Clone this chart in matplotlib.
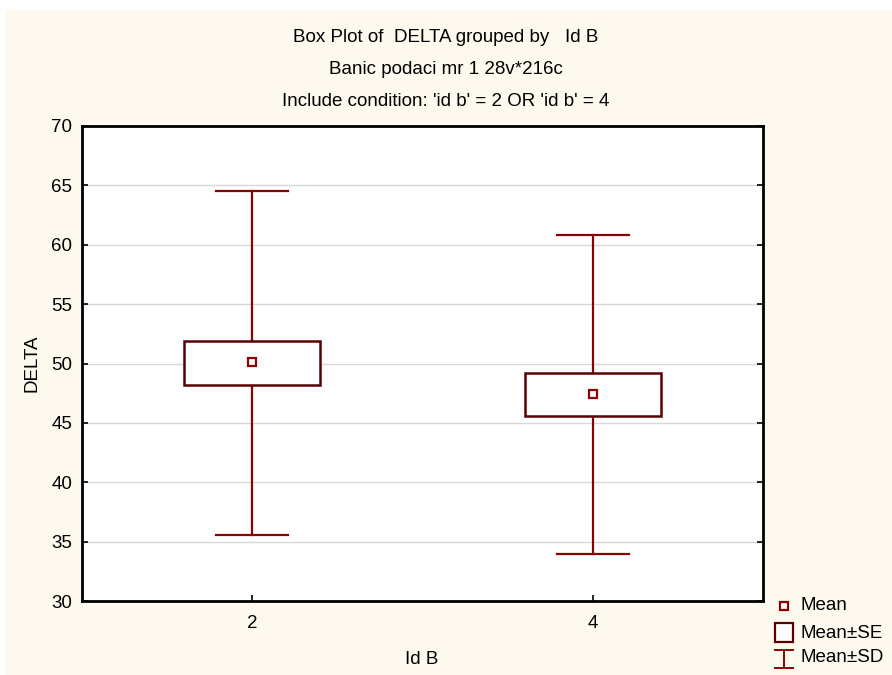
import matplotlib.pyplot as plt
from matplotlib.patches import Rectangle
from matplotlib.lines import Line2D

plt.rcParams['font.family'] = ['Liberation Sans', 'DejaVu Sans']

groups = ['2', '4']
positions = [2, 4]
means = [50.1, 47.43]
se_low = [48.2, 45.58]
se_high = [51.9, 49.2]
sd_low = [35.56, 33.96]
sd_high = [64.53, 60.82]

line_col = '#8b0000'
box_col = '#5a0000'
fs = 13.5

fig = plt.figure(figsize=(8.92, 6.75), dpi=100, facecolor='white')
fig.patches.append(Rectangle((5 / 892, 0), 1, 1 - 10 / 675, transform=fig.transFigure,
                             facecolor='#fdf9ef', edgecolor='none', zorder=-10))
ax = fig.add_axes([82 / 892, 1 - 601 / 675, 681 / 892, 475 / 675])
ax.set_facecolor('white')

box_w = 0.8
cap_w = 0.42
for x, m, sl, sh, dl, dh in zip(positions, means, se_low, se_high, sd_low, sd_high):
    ax.plot([x, x], [sh, dh], color=line_col, lw=1.6, zorder=3)
    ax.plot([x, x], [dl, sl], color=line_col, lw=1.6, zorder=3)
    ax.plot([x - cap_w / 2, x + cap_w / 2], [dh, dh], color=line_col, lw=1.6, zorder=3)
    ax.plot([x - cap_w / 2, x + cap_w / 2], [dl, dl], color=line_col, lw=1.6, zorder=3)
    ax.add_patch(Rectangle((x - box_w / 2, sl), box_w, sh - sl, facecolor='white',
                           edgecolor=box_col, lw=1.8, zorder=4))
    ax.plot([x], [m], marker='s', ms=6, mfc='white', mec=line_col, mew=1.6, zorder=5)

ax.set_xlim(1, 5)
ax.set_ylim(30, 70)
ax.set_xticks(positions)
ax.set_xticklabels(groups)
ax.set_yticks(range(30, 71, 5))
ax.grid(True, axis='y', color='#d8d8d8', lw=1)
ax.set_axisbelow(True)
for s in ax.spines.values():
    s.set_linewidth(2)
ax.tick_params(labelsize=fs, length=4, width=1.2, direction='in')
ax.tick_params(axis='y', right=True, pad=7)
ax.tick_params(axis='x', pad=10)

fig.text(0.5, 1 - 38 / 675, 'Box Plot of  DELTA grouped by   Id B', ha='center', va='center', fontsize=fs)
fig.text(0.5, 1 - 70 / 675, 'Banic podaci mr 1 28v*216c', ha='center', va='center', fontsize=fs)
fig.text(0.5, 1 - 101 / 675, "Include condition: 'id b' = 2 OR 'id b' = 4", ha='center', va='center', fontsize=fs)
fig.text(422 / 892, 1 - 659 / 675, 'Id B', ha='center', va='center', fontsize=fs)
fig.text(32 / 892, 1 - 363 / 675, 'DELTA', ha='center', va='center', rotation=90, fontsize=fs)

# legend
lx = 784 / 892
ty = [1 - 606 / 675, 1 - 633 / 675, 1 - 658 / 675]
fig.add_artist(Line2D([lx], [ty[0]], marker='s', ms=6, mfc='white', mec=line_col, mew=1.6,
                      transform=fig.transFigure))
fig.patches.append(Rectangle((775 / 892, 1 - 642 / 675), 18 / 892, 19 / 675, transform=fig.transFigure,
                             facecolor='white', edgecolor=box_col, lw=1.6))
fig.add_artist(Line2D([lx, lx], [1 - 650 / 675, 1 - 668 / 675], color=line_col, lw=1.4,
                      transform=fig.transFigure))
fig.add_artist(Line2D([775 / 892, 793 / 892], [1 - 650 / 675] * 2, color=line_col, lw=1.4,
                      transform=fig.transFigure))
fig.add_artist(Line2D([775 / 892, 793 / 892], [1 - 668 / 675] * 2, color=line_col, lw=1.4,
                      transform=fig.transFigure))
for y, t in zip(ty, ['Mean', 'Mean±SE', 'Mean±SD']):
    fig.text(800 / 892, y, t, ha='left', va='center', fontsize=fs)

fig.savefig('out.png', dpi=100, facecolor=fig.get_facecolor())
